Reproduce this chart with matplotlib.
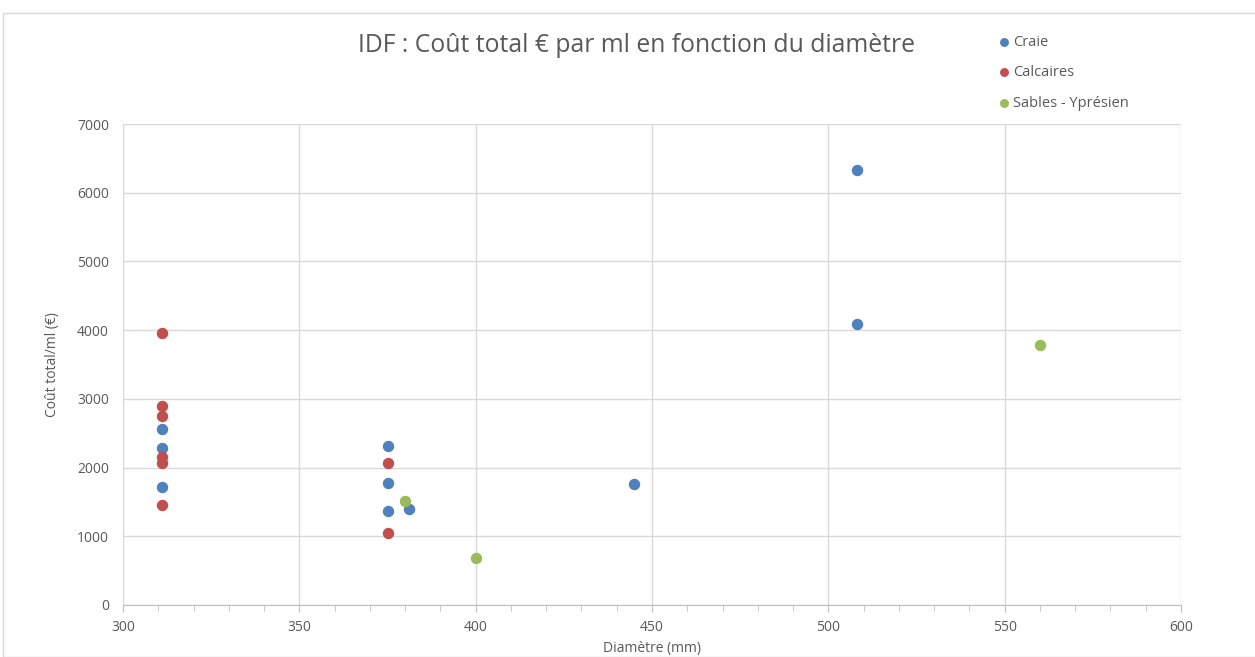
import matplotlib
matplotlib.use("Agg")
import matplotlib.pyplot as plt
from matplotlib.patches import Rectangle
from matplotlib.ticker import MultipleLocator

plt.rcParams['font.family'] = ['Open Sans', 'DejaVu Sans']

# data
craie_x = [311, 311, 311, 375, 375, 375, 381, 445, 508, 508]
craie_y = [2560, 2285, 1720, 2315, 1770, 1370, 1390, 1765, 6330, 4090]
calc_x = [311, 311, 311, 311, 311, 311, 375, 375]
calc_y = [3960, 2890, 2750, 2160, 2070, 1450, 2070, 1050]
sables_x = [380, 400, 560]
sables_y = [1520, 680, 3785]

grey = '#595959'

fig = plt.figure(figsize=(12.55, 6.57), dpi=100)
fig.patches.append(Rectangle((3/1255, 0), 1.2, 1 - 13/657, transform=fig.transFigure,
                             fill=False, edgecolor='#d9d9d9', lw=1))
ax = fig.add_axes([123/1255, 1 - 605/657, (1181-123)/1255, (605-124)/657])

ax.scatter(craie_x, craie_y, s=52, color='#4F81BD', label='Craie', zorder=3)
ax.scatter(calc_x, calc_y, s=52, color='#C0504D', label='Calcaires', zorder=3)
ax.scatter(sables_x, sables_y, s=52, color='#9BBB59', label='Sables - Yprésien', zorder=3)

ax.set_xlim(300, 600)
ax.set_ylim(0, 7000)
ax.xaxis.set_major_locator(MultipleLocator(50))
ax.xaxis.set_minor_locator(MultipleLocator(10))
ax.yaxis.set_major_locator(MultipleLocator(1000))
ax.grid(True, which='major', color='#d9d9d9', lw=1)
ax.set_axisbelow(True)
for s in ['top', 'right', 'left']:
    ax.spines[s].set_visible(False)
ax.spines['bottom'].set_color('#bfbfbf')
ax.tick_params(axis='x', which='major', length=5, color='#bfbfbf', labelsize=10, labelcolor=grey, pad=6)
ax.tick_params(axis='x', which='minor', length=4, color='#bfbfbf')
ax.tick_params(axis='y', length=0, labelsize=10, labelcolor=grey, pad=10)

ax.set_xlabel('Diamètre (mm)', fontsize=10, color=grey, labelpad=4)
ax.set_ylabel('Coût total/ml (€)', fontsize=10, color=grey, labelpad=12)

fig.text(636/1255, 1 - 45/657, 'IDF : Coût total € par ml en fonction du diamètre',
         ha='center', va='center', fontsize=17.8, color=grey)

leg = fig.legend(loc='upper left', bbox_to_anchor=(999/1255, 1 - 35/657), frameon=False,
                 fontsize=10.5, labelcolor=grey, handlelength=0.7, handletextpad=0.25,
                 labelspacing=1.05, markerscale=0.75, borderaxespad=0, borderpad=0)

fig.savefig('out.png', dpi=100)
